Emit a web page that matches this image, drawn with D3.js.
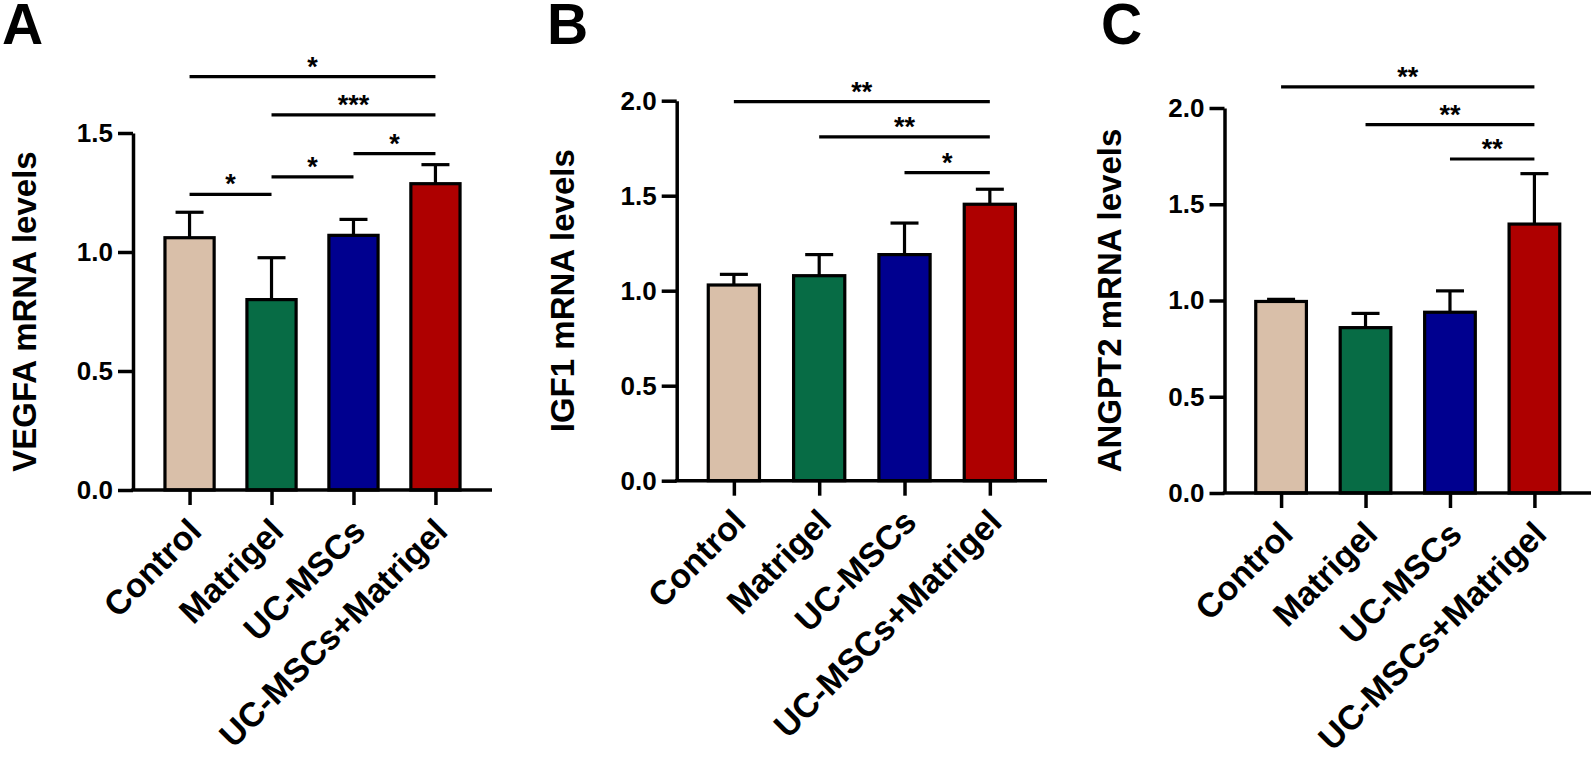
<!DOCTYPE html>
<html>
<head>
<meta charset="utf-8">
<script src="https://cdn.jsdelivr.net/npm/d3@7"></script>
<style>
  html, body { margin: 0; padding: 0; background: #fff; }
  svg { display: block; }
  text { font-family: "Liberation Sans", Arial, sans-serif; fill: #000; }
</style>
</head>
<body>
<svg id="chart" width="1594" height="760"></svg>
<script>
// ---------- data ----------
const categories = ["Control", "Matrigel", "UC-MSCs", "UC-MSCs+Matrigel"];
const barColors = ["#d9bfa9", "#076c45", "#00008f", "#ae0000"];

const vegfaMean = [1.06, 0.80, 1.07, 1.287];
const vegfaErr  = [0.107, 0.176, 0.067, 0.08];
const vegfaTicks = [0, 0.5, 1.0, 1.5];
const vegfaSig = [
  { from: 0, to: 3, y: 1.737, label: "*" },
  { from: 1, to: 3, y: 1.576, label: "***" },
  { from: 2, to: 3, y: 1.413, label: "*" },
  { from: 0, to: 1, y: 1.242, label: "*" },
  { from: 1, to: 2, y: 1.316, label: "*" }
];

const igf1Mean = [1.03, 1.079, 1.19, 1.455];
const igf1Err  = [0.056, 0.111, 0.166, 0.079];
const igf1Ticks = [0, 0.5, 1.0, 1.5, 2.0];
const igf1Sig = [
  { from: 0, to: 3, y: 1.995, label: "**" },
  { from: 1, to: 3, y: 1.81, label: "**" },
  { from: 2, to: 3, y: 1.621, label: "*" }
];

const angpt2Mean = [0.995, 0.859, 0.939, 1.397];
const angpt2Err  = [0.011, 0.074, 0.111, 0.262];
const angpt2Ticks = [0, 0.5, 1.0, 1.5, 2.0];
const angpt2Sig = [
  { from: 0, to: 3, y: 2.11, label: "**" },
  { from: 1, to: 3, y: 1.914, label: "**" },
  { from: 2, to: 3, y: 1.735, label: "**" }
];

// ---------- layout ----------
const panels = [
  { letter: "A", title: "VEGFA mRNA levels", mean: vegfaMean, err: vegfaErr, ticks: vegfaTicks, sig: vegfaSig,
    x0: 133, x1: 492, yTop: 133, yBottom: 490, pad: 0.69, titleX: 24, letterX: 2 },
  { letter: "B", title: "IGF1 mRNA levels", mean: igf1Mean, err: igf1Err, ticks: igf1Ticks, sig: igf1Sig,
    x0: 676.7, x1: 1047, yTop: 100.7, yBottom: 480.7, pad: 0.67, titleX: 562, letterX: 547 },
  { letter: "C", title: "ANGPT2 mRNA levels", mean: angpt2Mean, err: angpt2Err, ticks: angpt2Ticks, sig: angpt2Sig,
    x0: 1224.5, x1: 1591, yTop: 108, yBottom: 493, pad: 0.67, titleX: 1109, letterX: 1101 }
];

const svg = d3.select("#chart");
const AXW = 3.5;
const FONT = '"Liberation Sans", Arial, sans-serif';

panels.forEach(p => {
  const g = svg.append("g");
  const x = d3.scalePoint().domain(categories).range([p.x0, p.x1]).padding(p.pad);
  const yMax = d3.max(p.ticks);
  const y = d3.scaleLinear().domain([0, yMax]).range([p.yBottom, p.yTop]);
  const bw = x.step() * 0.6;

  // bars
  g.selectAll("rect.bar").data(p.mean).join("rect")
    .attr("class", "bar")
    .attr("x", (d, i) => x(categories[i]) - bw / 2)
    .attr("y", d => y(d))
    .attr("width", bw)
    .attr("height", d => y(0) - y(d))
    .attr("fill", (d, i) => barColors[i])
    .attr("stroke", "#000")
    .attr("stroke-width", 3.2);

  // error bars
  const eb = g.selectAll("g.err").data(p.mean).join("g").attr("class", "err");
  eb.append("line")
    .attr("x1", (d, i) => x(categories[i])).attr("x2", (d, i) => x(categories[i]))
    .attr("y1", d => y(d)).attr("y2", (d, i) => y(d + p.err[i]))
    .attr("stroke", "#000").attr("stroke-width", 3.2);
  eb.append("line")
    .attr("x1", (d, i) => x(categories[i]) - 14).attr("x2", (d, i) => x(categories[i]) + 14)
    .attr("y1", (d, i) => y(d + p.err[i])).attr("y2", (d, i) => y(d + p.err[i]))
    .attr("stroke", "#000").attr("stroke-width", 3.2);

  // y axis
  const yAxis = g.append("g")
    .attr("transform", `translate(${p.x0},0)`)
    .call(d3.axisLeft(y).tickValues(p.ticks).tickFormat(d3.format(".1f")).tickSize(15).tickSizeOuter(0).tickPadding(5));
  yAxis.select(".domain").attr("stroke-width", AXW).attr("stroke", "#000");
  yAxis.selectAll(".tick line").attr("stroke-width", AXW).attr("stroke", "#000");
  yAxis.selectAll(".tick text").attr("font-size", 26).attr("font-weight", "bold")
    .style("font-family", FONT).attr("fill", "#000");

  // x axis
  const xAxis = g.append("g")
    .attr("transform", `translate(0,${p.yBottom})`)
    .call(d3.axisBottom(x).tickSize(15).tickSizeOuter(0));
  xAxis.select(".domain").attr("stroke-width", AXW).attr("stroke", "#000")
    .attr("d", `M${p.x0 - AXW / 2},0H${p.x1}`);
  xAxis.selectAll(".tick line").attr("stroke-width", AXW).attr("stroke", "#000");
  xAxis.selectAll(".tick text")
    .attr("x", 0).attr("y", 0).attr("dy", "0.35em")
    .attr("text-anchor", "end")
    .attr("transform", "translate(5,35) rotate(-45)")
    .attr("font-size", 34).attr("font-weight", "bold")
    .style("font-family", FONT).attr("fill", "#000");

  // significance brackets
  const sg = g.selectAll("g.sig").data(p.sig).join("g").attr("class", "sig");
  sg.append("line")
    .attr("x1", d => x(categories[d.from])).attr("x2", d => x(categories[d.to]))
    .attr("y1", d => y(d.y)).attr("y2", d => y(d.y))
    .attr("stroke", "#000").attr("stroke-width", 3.2);
  sg.append("text")
    .attr("x", d => (x(categories[d.from]) + x(categories[d.to])) / 2)
    .attr("y", d => y(d.y) - 1)
    .attr("text-anchor", "middle")
    .attr("font-size", 27).attr("font-weight", "bold")
    .text(d => d.label);

  // y title
  g.append("text")
    .attr("transform", `translate(${p.titleX},${(p.yTop + p.yBottom) / 2}) rotate(-90)`)
    .attr("text-anchor", "middle").attr("dominant-baseline", "central")
    .attr("font-size", 33).attr("font-weight", "bold")
    .text(p.title);

  // panel letter
  g.append("text")
    .attr("x", p.letterX).attr("y", 44)
    .attr("font-size", 57).attr("font-weight", "bold")
    .text(p.letter);
});
</script>
</body>
</html>
